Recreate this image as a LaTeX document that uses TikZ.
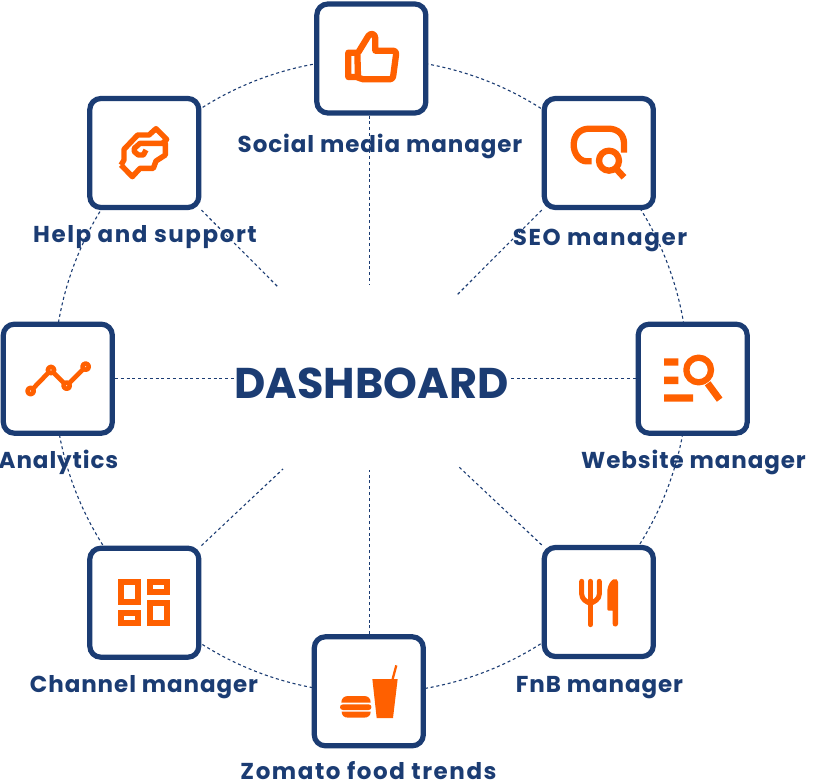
\documentclass[tikz,border=0pt]{standalone}
\usepackage{fontspec}
\setmainfont{Poppins}
\newfontfamily\spaced{Poppins}[LetterSpace=4]
\newfontfamily\wider{Poppins}[LetterSpace=6.8]
\usetikzlibrary{backgrounds}
\definecolor{navy}{HTML}{1B3C73}
\definecolor{flame}{HTML}{FF6000}
\tikzset{
  card/.style={draw=navy,fill=white,line width=5.2pt,rounded corners=11pt,minimum width=109pt,minimum height=109pt,inner sep=0pt},
  caption/.style={text=navy,font=\spaced\bfseries\fontsize{23pt}{25pt}\selectfont,anchor=base,inner sep=0pt},
  wide caption/.style={caption,font=\wider\bfseries\fontsize{23pt}{25pt}\selectfont},
  title/.style={text=navy,font=\bfseries\fontsize{43pt}{46pt}\selectfont,anchor=base,inner sep=0pt},
  spoke/.style={draw=navy,line width=1.1pt,dash pattern=on 3pt off 2.8pt},
  glyph/.style={draw=flame,line width=6.3pt,line join=round,x=0.33333pt,y=-0.33333pt},
  solid glyph/.style={fill=flame,draw=none,x=0.33333pt,y=-0.33333pt},
}
\begin{document}
\begin{tikzpicture}[x=1pt,y=-1pt]
\useasboundingbox (0,0) rectangle (827,784);
\node[card] (top) at (371.3,58.5) {};
\node[card] (seo) at (598.8,153) {};
\node[card] (web) at (692.7,378.7) {};
\node[card] (fnb) at (598.8,602) {};
\node[card] (zom) at (368.8,691.3) {};
\node[card] (chan) at (144.3,602.7) {};
\node[card] (ana) at (57.8,378.7) {};
\node[card] (help) at (144.3,153) {};
\node[title] (dash) at (371.5,398) {DASHBOARD};
\coordinate (hub) at (371,376);
\coordinate (topEnd) at (369.5,285);
\coordinate (botEnd) at (369.5,470);
\coordinate (seoEnd) at (457,295);
\coordinate (helpEnd) at (278,287);
\coordinate (fnbEnd) at (458,466);
\coordinate (chanEnd) at (283,469);
\begin{scope}[on background layer]
\fill[white] (0,0) rectangle (827,784);
\draw[spoke] (hub) circle (317);
\draw[spoke] (top.south -| topEnd) -- (topEnd);
\draw[spoke] (zom.north -| botEnd) -- (botEnd);
\draw[spoke] (seo.south west) -- (seoEnd);
\draw[spoke] (help.south east) -- (helpEnd);
\draw[spoke] (fnb.north west) -- (fnbEnd);
\draw[spoke] (chan.north east) -- (chanEnd);
\draw[spoke] (ana.east) -- (dash.west |- ana.east);
\draw[spoke] (web.west) -- (dash.east |- web.west);
\end{scope}
\node[caption] (c1) at (380,152) {Social media manager};
\node[wide caption] (c2) at (600,245) {SEO manager};
\node[caption] (c3) at (693.5,468) {Website manager};
\node[caption] (c4) at (599.5,692) {FnB manager};
\node[wide caption] (c5) at (368.5,779) {Zomato food trends};
\node[caption] (c6) at (144,692) {Channel manager};
\node[caption] (c7) at (58.5,468) {Analytics};
\node[wide caption] (c8) at (145,242) {Help and support};
% thumb
\begin{scope}[shift={(300,0)},glyph]
\draw (175,157) -- (205,108) .. controls (212,98) and (225,100) .. (226,115) -- (226,152) -- (275,152) .. controls (285,152) and (289,155) .. (288,165) -- (280,225) .. controls (279,235) and (275,238) .. (265,238) -- (190,238) .. controls (182,238) and (178,232) .. (170,231) -- (145,231) -- (145,158) -- (172,158) -- (174,231);
\end{scope}
% seo
\begin{scope}[shift={(530,90)},glyph]
\draw (185,214) -- (170,214) .. controls (148,214) and (131,190) .. (131,165) .. controls (131,135) and (150,116) .. (178,116) -- (235,116) .. controls (265,116) and (282,135) .. (282,160) -- (282,188);
\draw (237,212) circle (30);
\draw[line width=6.5pt] (258,236) -- (282,262);
\end{scope}
% website
\begin{scope}[shift={(625,315)},glyph]
\fill[flame] (117,130) rectangle (160,152) (117,185) rectangle (160,207) (117,238) rectangle (204,260);
\draw (221,165) circle (37);
\draw[line width=7pt] (248,205) -- (284,254);
\end{scope}
% fnb
\begin{scope}[shift={(530,540)},glyph,line width=5pt]
\draw[line cap=round] (155,124) -- (155,162) .. controls (155,178) and (170,186) .. (181,190) .. controls (192,186) and (208,178) .. (208,162) -- (208,124);
\draw[line cap=round] (181,124) -- (181,254);
\fill[flame] (232,208) -- (232,150) .. controls (234,135) and (242,122) .. (250,118) .. controls (258,115) and (264,118) .. (264,126) -- (264,252) .. controls (264,262) and (248,262) .. (248,252) -- (248,212) -- (238,212) .. controls (234,212) and (232,211) .. (232,208) -- cycle;
\end{scope}
% zomato
\begin{scope}[shift={(300,630)},solid glyph]
\fill[flame] (217,147) -- (293,147) -- (279,264) -- (230,264) -- cycle;
\draw[flame,line width=2.3pt] (278,147) -- (289,106);
\fill[flame] (124,218) .. controls (124,205) and (132,198) .. (145,198) -- (192,198) .. controls (205,198) and (212,205) .. (212,218) -- cycle;
\fill[flame] (129,223) -- (206,223) .. controls (217,223) and (217,240) .. (206,240) -- (129,240) .. controls (117,240) and (117,223) .. (129,223) -- cycle;
\fill[flame] (125,245) -- (212,245) .. controls (212,256) and (205,263) .. (192,263) -- (145,263) .. controls (132,263) and (125,256) .. (125,245) -- cycle;
\end{scope}
% channel
\begin{scope}[shift={(75,540)},glyph,line width=6pt,line join=miter]
\draw (137,125) rectangle (190,187);
\draw (224,125) rectangle (277,156);
\draw (137,219) rectangle (190,250);
\draw (224,188) rectangle (277,250);
\end{scope}
% analytics
\begin{scope}[shift={(0,315)},glyph,line width=4.6pt]
\draw (92,228) -- (153,165) -- (200,212) -- (257,155);
\foreach \p in {(92,228),(153,165),(200,212),(257,155)}
  \draw[fill=white,line width=4.6pt] \p circle (9.5);
\end{scope}
% help
\begin{scope}[shift={(75,90)},glyph,line width=5.4pt]
\draw (138,225) -- (172,260) -- (195,235) -- (235,235) -- (243,213) -- (271,195) -- (271,160) -- (195,160) -- (178,175) -- (178,185) -- (190,195) -- (205,195) -- (213,180);
\draw (138,225) -- (147,210) -- (147,178) -- (188,135) -- (222,135) -- (243,116) -- (275,148) -- (263,160);
\end{scope}
\end{tikzpicture}
\end{document}
